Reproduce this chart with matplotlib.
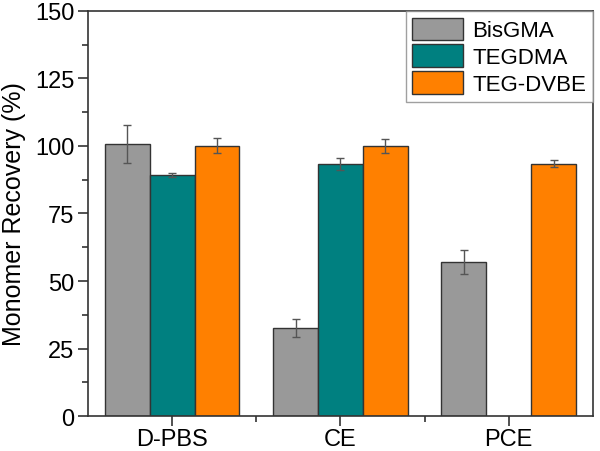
import numpy as np
import matplotlib
matplotlib.use("Agg")
import matplotlib.pyplot as plt
from matplotlib.ticker import MultipleLocator, FixedLocator

plt.rcParams['font.family'] = ['Liberation Sans', 'DejaVu Sans']

# -------------------------
# Data
# -------------------------
categories = ['D-PBS', 'CE', 'PCE']
series = ['BisGMA', 'TEGDMA', 'TEG-DVBE']
bisgma = [100.8, 32.7, 57.0]
bisgma_err = [7.0, 3.3, 4.5]
tegdma = [89.3, 93.2, 0.0]
tegdma_err = [0.7, 2.2, 0.0]
tegdvbe = [100.1, 100.0, 93.5]
tegdvbe_err = [2.7, 2.5, 1.2]
colors = ['#999999', '#008080', '#ff8000']

values = [bisgma, tegdma, tegdvbe]
errors = [bisgma_err, tegdma_err, tegdvbe_err]

fig = plt.figure(figsize=(6.0, 4.52), dpi=100)
ax = fig.add_axes([0.1467, 0.0774, 0.8413, 0.8961])

x = np.arange(1, len(categories) + 1)
w = 0.8 / 3
for i, (name, vals, errs, c) in enumerate(zip(series, values, errors, colors)):
    pos = x + (i - 1) * w
    show = [v > 0 for v in vals]
    ax.bar(pos[show], np.array(vals)[show], width=w, color=c,
           edgecolor='#333333', linewidth=1.0, label=name)
    ax.errorbar(pos[show], np.array(vals)[show], yerr=np.array(errs)[show],
                fmt='none', ecolor='#555555', elinewidth=1.0, capsize=3,
                capthick=1.0)

ax.set_xlim(0.5, 3.5)
ax.set_ylim(0, 150)
ax.set_xticks(x)
ax.set_xticklabels(categories)
ax.xaxis.set_minor_locator(FixedLocator([1.5, 2.5]))
ax.yaxis.set_major_locator(MultipleLocator(25))
ax.yaxis.set_minor_locator(MultipleLocator(12.5))
ax.tick_params(axis='both', which='major', direction='out', length=7,
               width=1.2, labelsize=17, color='#333333')
ax.tick_params(axis='y', which='major', pad=3)
ax.tick_params(axis='x', which='major', pad=1.5)
ax.tick_params(axis='both', which='minor', direction='out', length=4,
               width=1.2, color='#333333')
ax.tick_params(top=False, right=False, which='both')
for s in ax.spines.values():
    s.set_linewidth(1.2)
    s.set_color('#333333')

ax.set_ylabel('Monomer Recovery (%)', fontsize=18, labelpad=6)

leg = ax.legend(loc='upper right', fontsize=16, frameon=True, fancybox=False,
                borderpad=0.3, labelspacing=0.14, handlelength=2.3,
                handleheight=1.17, handletextpad=0.4, borderaxespad=0.0)
leg.get_frame().set_edgecolor('#888888')
leg.get_frame().set_linewidth(1.0)

fig.savefig('out.png', dpi=100)
